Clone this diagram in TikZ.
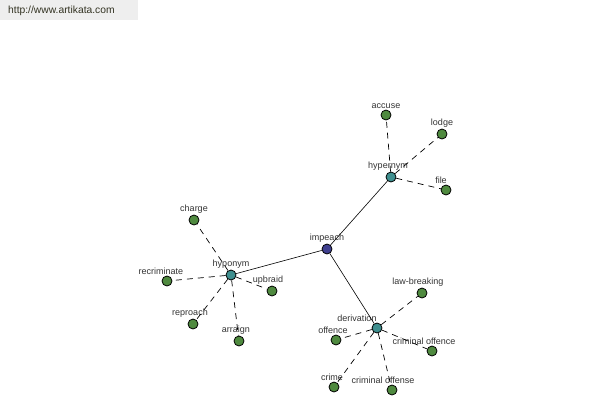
\documentclass[tikz,border=0pt]{standalone}
\usepackage{fontspec}
\setmainfont{Liberation Sans}
\usepackage{tikz}
\usetikzlibrary{positioning}
\definecolor{Navy}{HTML}{3F3F8F}
\definecolor{Teal}{HTML}{3F8F8F}
\definecolor{Leaf}{HTML}{4F8A3F}
\definecolor{Ink}{HTML}{333333}
\definecolor{Band}{HTML}{EEEEEE}
\definecolor{UrlInk}{HTML}{333322}
\tikzset{
  word/.style={circle,draw=black,line width=.8pt,minimum size=10pt,inner sep=0pt},
  root/.style={word,fill=Navy},
  hub/.style={word,fill=Teal},
  leaf/.style={word,fill=Leaf},
  lbl/.style={font=\fontsize{9}{10}\selectfont,text=Ink,inner sep=1pt,label distance=0pt},
  main/.style={draw=black,line width=.6pt},
  rel/.style={draw=black,line width=.7pt,dash pattern=on 6pt off 5pt},
}

\begin{document}
\begin{tikzpicture}[x=1pt,y=-1pt]
          \useasboundingbox (0,0) rectangle (600,400);
          \node[fill=Band,minimum width=138pt,minimum height=20pt,inner sep=0pt,anchor=north west] (band) at (0,0) {};
          \node[text=UrlInk,font=\fontsize{10.3}{12}\selectfont,anchor=west,inner sep=0pt] (url) at (8,10.5) {http://www.artikata.com};

          \node[root,label={[lbl]above:impeach}] (impeach) at (327,249) {};
          \node[hub,label={[lbl,xshift=-3pt]above:hypernym}] (hyper) at (391,177) {};
          \node[hub,label={[lbl]above:hyponym}] (hypo) at (231,275) {};
          \node[hub,label={[lbl,xshift=-20pt]above:derivation}] (deriv) at (377,328) {};

          \node[leaf,label={[lbl]above:accuse}] (accuse) at (386,115) {};
          \node[leaf,label={[lbl]above:lodge}] (lodge) at (442,134) {};
          \node[leaf,label={[lbl,xshift=-5pt]above:file}] (file) at (446,190) {};

          \node[leaf,label={[lbl]above:charge}] (charge) at (194,220) {};
          \node[leaf,label={[lbl,xshift=-6pt]above:recriminate}] (recrim) at (167,281) {};
          \node[leaf,label={[lbl,xshift=-4pt]above:upbraid}] (upbraid) at (272,291) {};
          \node[leaf,label={[lbl,xshift=-3pt]above:reproach}] (reproach) at (193,324) {};
          \node[leaf,label={[lbl,xshift=-3pt]above:arraign}] (arraign) at (239,341) {};

          \node[leaf,label={[lbl,xshift=-4pt]above:law-breaking}] (lawbr) at (422,293) {};
          \node[leaf,label={[lbl,xshift=-3pt]above:offence}] (offence) at (336,340) {};
          \node[leaf,label={[lbl,xshift=-8pt]above:criminal offence}] (croffence) at (432,351) {};
          \node[leaf,label={[lbl,xshift=-2pt]above:crime}] (crime) at (334,387) {};
          \node[leaf,label={[lbl,xshift=-9pt]above:criminal offense}] (croffense) at (392,390) {};

          \draw[main] (impeach) -- (hyper);
          \draw[main] (impeach) -- (hypo);
          \draw[main] (impeach) -- (deriv);

          \foreach \w in {accuse,lodge,file}
            \draw[rel] (hyper) -- (\w);
          \foreach \w in {charge,recrim,upbraid,reproach,arraign}
            \draw[rel] (hypo) -- (\w);
          \foreach \w in {lawbr,offence,croffence,crime,croffense}
            \draw[rel] (deriv) -- (\w);
        \end{tikzpicture}
\end{document}
